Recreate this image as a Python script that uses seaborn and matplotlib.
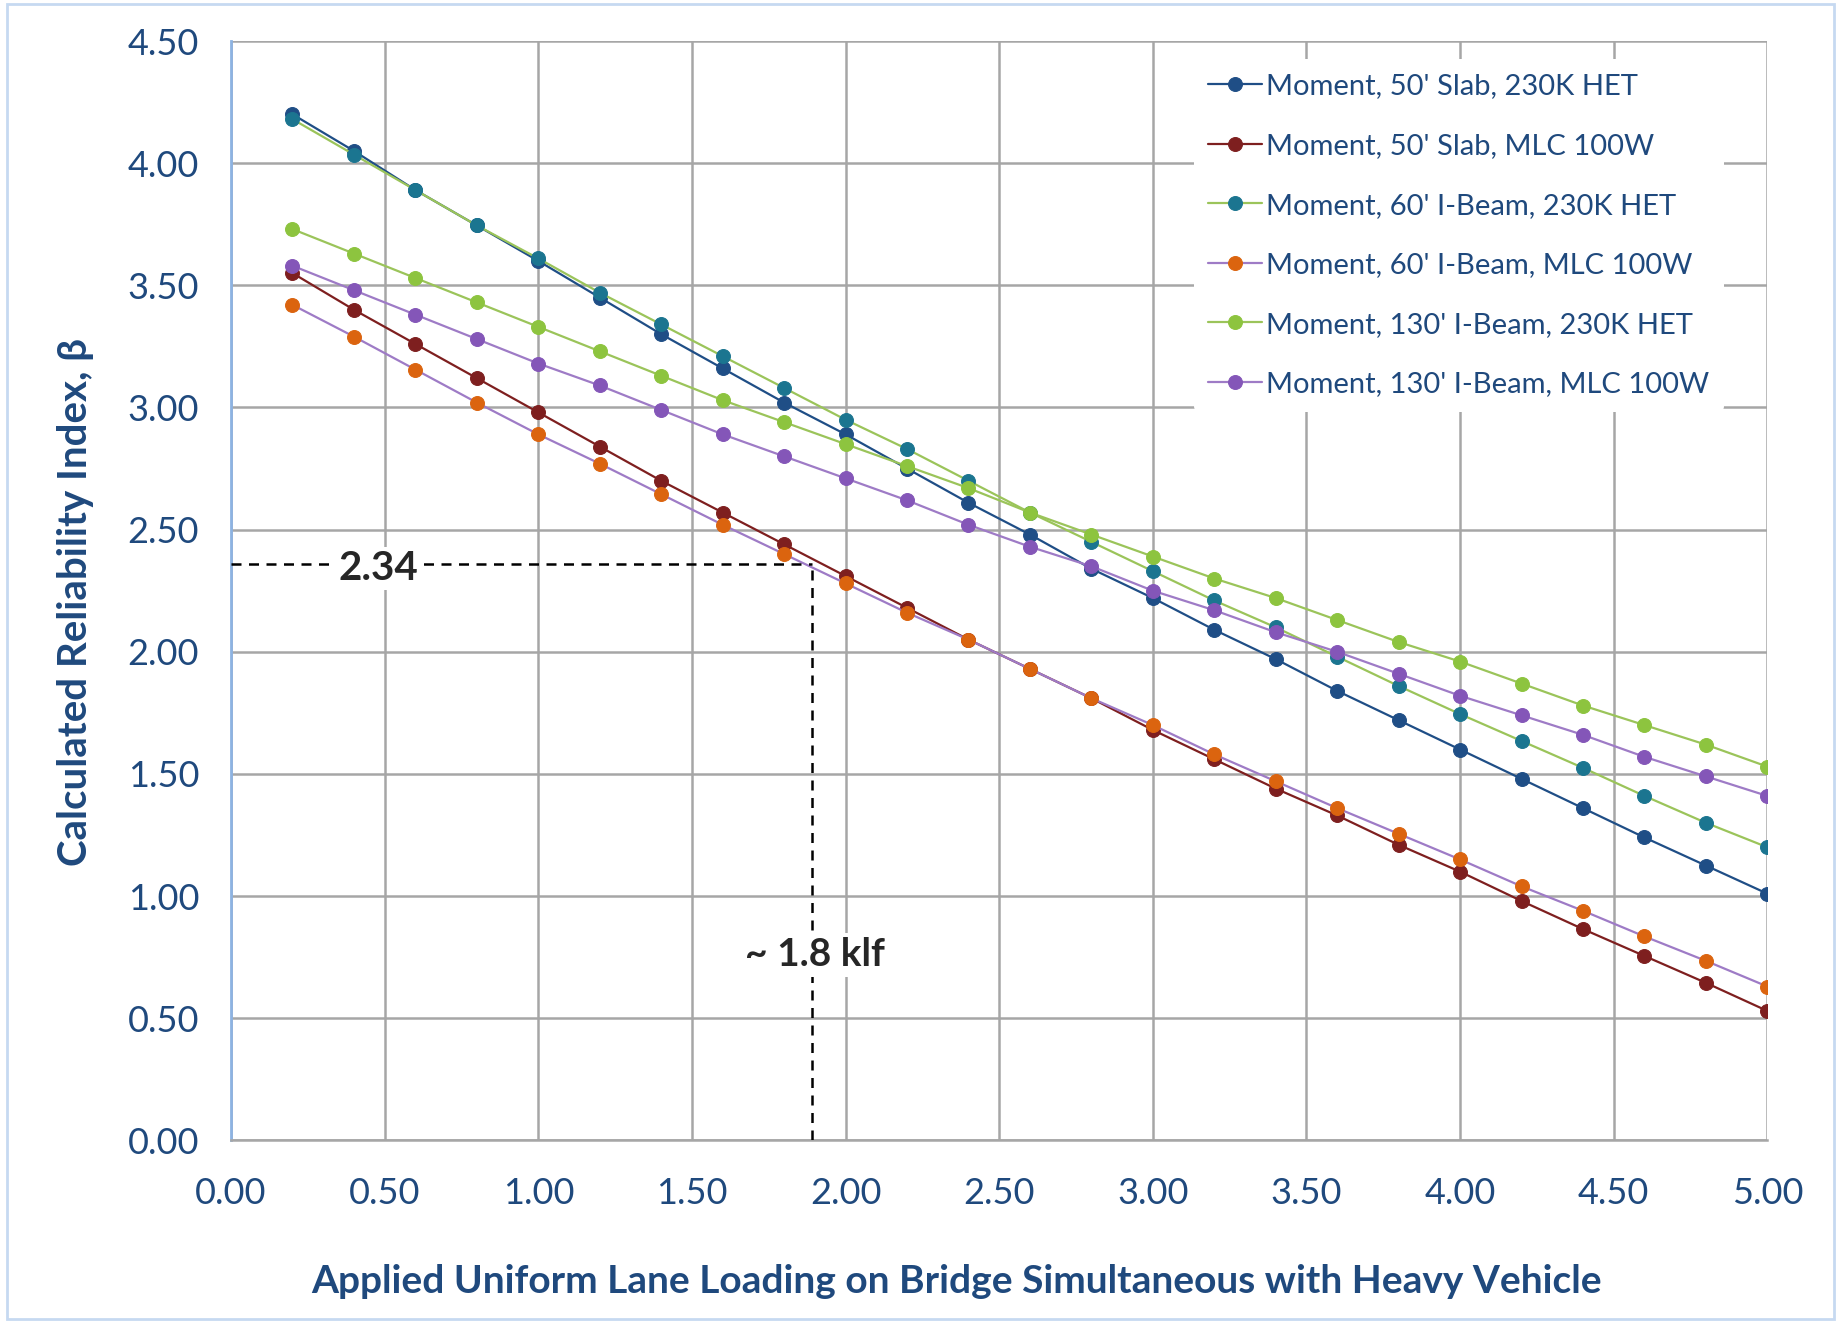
import numpy as np
import pandas as pd
import matplotlib
matplotlib.use("Agg")
import matplotlib.pyplot as plt
import seaborn as sns
from matplotlib.patches import Rectangle

# Applied lane loading (klf)
loading = [0.2, 0.4, 0.6, 0.8, 1.0, 1.2, 1.4, 1.6, 1.8, 2.0, 2.2, 2.4, 2.6,
           2.8, 3.0, 3.2, 3.4, 3.6, 3.8, 4.0, 4.2, 4.4, 4.6, 4.8, 5.0]

slab50_het = [4.20, 4.05, 3.89, 3.745, 3.60, 3.45, 3.30, 3.16, 3.02, 2.89, 2.75, 2.61, 2.48,
              2.34, 2.22, 2.09, 1.97, 1.84, 1.72, 1.60, 1.48, 1.36, 1.24, 1.125, 1.01]
slab50_mlc = [3.55, 3.40, 3.26, 3.12, 2.98, 2.84, 2.70, 2.57, 2.44, 2.31, 2.18, 2.05, 1.93,
              1.81, 1.68, 1.56, 1.44, 1.33, 1.21, 1.10, 0.98, 0.865, 0.755, 0.645, 0.53]
ibeam60_het = [4.18, 4.035, 3.89, 3.745, 3.61, 3.47, 3.34, 3.21, 3.08, 2.95, 2.83, 2.70, 2.57,
               2.45, 2.33, 2.21, 2.10, 1.98, 1.86, 1.745, 1.635, 1.525, 1.41, 1.30, 1.20]
ibeam60_mlc = [3.42, 3.29, 3.155, 3.02, 2.89, 2.77, 2.645, 2.52, 2.40, 2.28, 2.16, 2.05, 1.93,
               1.81, 1.70, 1.58, 1.47, 1.36, 1.255, 1.15, 1.04, 0.94, 0.835, 0.735, 0.63]
ibeam130_het = [3.73, 3.63, 3.53, 3.43, 3.33, 3.23, 3.13, 3.03, 2.94, 2.85, 2.76, 2.67, 2.57,
                2.48, 2.39, 2.30, 2.22, 2.13, 2.04, 1.96, 1.87, 1.78, 1.70, 1.62, 1.53]
ibeam130_mlc = [3.58, 3.48, 3.38, 3.28, 3.18, 3.09, 2.99, 2.89, 2.80, 2.71, 2.62, 2.52, 2.43,
                2.35, 2.25, 2.17, 2.08, 2.00, 1.91, 1.82, 1.74, 1.66, 1.57, 1.49, 1.41]

labels = ["Moment, 50' Slab, 230K HET", "Moment, 50' Slab, MLC 100W",
          "Moment, 60' I-Beam, 230K HET", "Moment, 60' I-Beam, MLC 100W",
          "Moment, 130' I-Beam, 230K HET", "Moment, 130' I-Beam, MLC 100W"]
series = [slab50_het, slab50_mlc, ibeam60_het, ibeam60_mlc, ibeam130_het, ibeam130_mlc]

marker_colors = ["#1F4E86", "#7E1F1F", "#1B7590", "#DB640F", "#8DC43F", "#8456B8"]
line_colors = ["#1F4E86", "#7E1F1F", "#9BC45A", "#9E7BC6", "#9BC45A", "#9E7BC6"]

x_ticks = [0.0, 0.5, 1.0, 1.5, 2.0, 2.5, 3.0, 3.5, 4.0, 4.5, 5.0]
y_ticks = [0.0, 0.5, 1.0, 1.5, 2.0, 2.5, 3.0, 3.5, 4.0, 4.5]

beta_read = 2.36
load_read = 1.89

navy = "#1F497D"

sns.set_style("white")
plt.rcParams['font.family'] = ['Lato', 'DejaVu Sans']

fig = plt.figure(figsize=(18.41, 13.23), dpi=100)
ax = fig.add_axes([0.1255, 0.138, 0.8345, 0.831])

for vals, lab, mc, lc in zip(series, labels, marker_colors, line_colors):
    sns.lineplot(x=loading, y=vals, ax=ax, color=lc, linewidth=1.6,
                 marker="o", markersize=10, markerfacecolor=mc,
                 markeredgecolor=mc, label=lab, zorder=3)

# reading lines
ax.plot([0, load_read], [beta_read, beta_read], color="black", lw=1.8,
        ls=(0, (4, 3)), zorder=4)
ax.plot([load_read, load_read], [0, beta_read], color="black", lw=1.8,
        ls=(0, (4, 3)), zorder=4)
ax.text(0.48, beta_read - 0.02, "2.34", fontsize=29, fontweight="bold", ha="center",
        va="center", zorder=5,
        bbox=dict(facecolor="white", edgecolor="none", pad=2))
ax.text(1.9, 0.76, "~ 1.8 klf", fontsize=28, fontweight="bold", ha="center",
        va="center", zorder=5,
        bbox=dict(facecolor="white", edgecolor="none", pad=3))

ax.set_xlim(0, 5)
ax.set_ylim(0, 4.5)
ax.set_xticks(x_ticks)
ax.set_yticks(y_ticks)
ax.set_xticklabels([f"{v:.2f}" for v in x_ticks])
ax.set_yticklabels([f"{v:.2f}" for v in y_ticks])
ax.tick_params(axis="both", labelsize=26, labelcolor=navy, length=0)
ax.tick_params(axis="x", pad=26)
ax.tick_params(axis="y", pad=23)
ax.grid(True, color="#A6A6A6", lw=1.8)
ax.set_axisbelow(True)
for s in ["top", "right"]:
    ax.spines[s].set_visible(False)
ax.spines["left"].set_color("#8DB3E2")
ax.spines["left"].set_linewidth(2)
ax.spines["bottom"].set_color("#A6A6A6")
ax.spines["bottom"].set_linewidth(1.8)

ax.set_xlabel("Applied Uniform Lane Loading on Bridge Simultaneous with Heavy Vehicle",
              fontsize=28, fontweight="bold", color=navy)
ax.set_ylabel("Calculated Reliability Index, \u03b2", fontsize=29,
              fontweight="bold", color=navy)
ax.xaxis.set_label_coords(0.4725, -0.1125)
ax.yaxis.set_label_coords(-0.089, 0.49)

leg = ax.legend(loc="upper right", bbox_to_anchor=(0.981, 0.997), frameon=True,
                fontsize=21, labelspacing=1.15, handlelength=1.85,
                handletextpad=0.12, borderpad=0.5)
leg.get_frame().set_facecolor("white")
leg.get_frame().set_edgecolor("none")
leg.get_frame().set_alpha(1)
for t in leg.get_texts():
    t.set_color(navy)

fig.patches.append(Rectangle((0.004, 0.003), 0.992, 0.994, transform=fig.transFigure,
                             fill=False, edgecolor="#C6D9F1", lw=2))

fig.savefig("out.png", dpi=100)
